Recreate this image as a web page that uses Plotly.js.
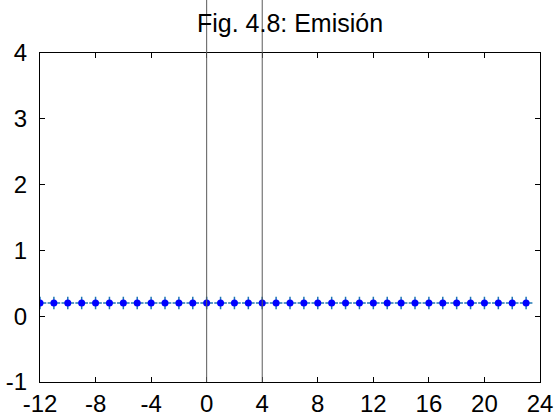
<!DOCTYPE html>
<html>
<head>
<meta charset="utf-8">
<script src="https://cdn.plot.ly/plotly-3.0.1.min.js"></script>
<style>html,body{margin:0;padding:0;background:#fff;}#chart{width:557px;height:418px;}</style>
</head>
<body>
<div id="chart"></div>
<script>
// Data
var nValues = [-12,-11,-10,-9,-8,-7,-6,-5,-4,-3,-2,-1,0,1,2,3,4,5,6,7,8,9,10,11,12,13,14,15,16,17,18,19,20,21,22,23];
var emission = [0.2,0.2,0.2,0.2,0.2,0.2,0.2,0.2,0.2,0.2,0.2,0.2,0.2,0.2,0.2,0.2,0.2,0.2,0.2,0.2,0.2,0.2,0.2,0.2,0.2,0.2,0.2,0.2,0.2,0.2,0.2,0.2,0.2,0.2,0.2,0.2];
var markerLines = [0, 4];
var xTicks = [-12,-8,-4,0,4,8,12,16,20,24];
var yTicks = [-1,0,1,2,3,4];
var titleText = 'Fig. 4.8: Emisión';

var font = 'Liberation Sans, Arial, sans-serif';

var traces = [
  {x: nValues, y: emission, mode: 'markers', type: 'scatter',
   marker: {symbol: 'cross-thin-open', size: 9, line: {color: '#008000', width: 1.5}},
   hoverinfo: 'skip', showlegend: false},
  {x: nValues, y: emission, mode: 'markers', type: 'scatter',
   marker: {symbol: 'circle', size: 7, color: '#0000ff', line: {width: 0}},
   showlegend: false}
];

var shapes = markerLines.map(function(v){
  return {type: 'line', xref: 'x', yref: 'paper', x0: v, x1: v, y0: 0, y1: 1.165,
          line: {color: '#5a5a5a', width: 1}, layer: 'above'};
});

var axisCommon = {
  showgrid: false, zeroline: false, showline: true, linecolor: '#000', linewidth: 1,
  mirror: 'ticks', ticks: 'inside', ticklen: 5, tickwidth: 1, tickcolor: '#000',
  tickfont: {family: font, size: 24, color: '#000'}, fixedrange: true
};

var layout = {
  width: 557, height: 418,
  margin: {l: 40, r: 17, t: 53, b: 36, pad: 0},
  paper_bgcolor: '#fff', plot_bgcolor: '#fff',
  title: {text: titleText, font: {family: font, size: 25, color: '#000'},
          x: 0.5, xref: 'paper', xanchor: 'center', y: 0.945, yanchor: 'middle'},
  xaxis: Object.assign({}, axisCommon, {range: [-12, 24], tickvals: xTicks, ticktext: xTicks.map(String), ticklabelstandoff: 0}),
  yaxis: Object.assign({}, axisCommon, {range: [-1, 4], tickvals: yTicks, ticktext: yTicks.map(String), ticklabelstandoff: 7}),
  shapes: shapes,
  showlegend: false
};

Plotly.newPlot('chart', traces, layout, {staticPlot: true, displayModeBar: false});
</script>
</body>
</html>
